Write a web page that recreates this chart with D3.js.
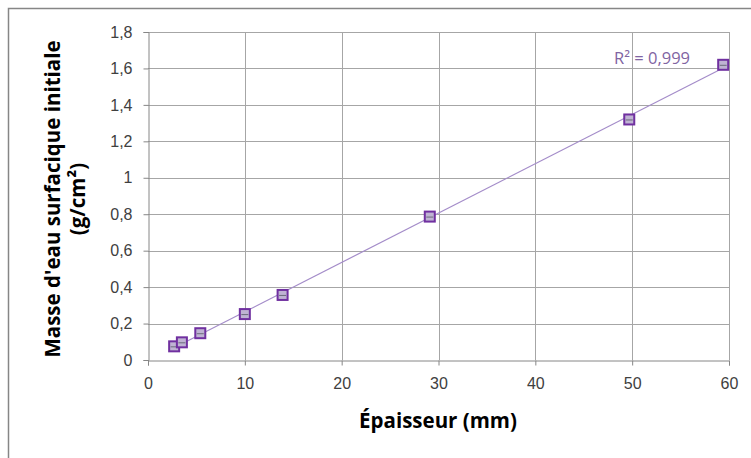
<!DOCTYPE html>
<html><head><meta charset="utf-8">
<script src="https://cdn.jsdelivr.net/npm/d3@7"></script>
<style>body{margin:0;background:#fff}svg{display:block;font-family:"Open Sans","Noto Sans",sans-serif}</style>
</head><body>
<svg id="c" width="751" height="458"></svg>
<script>
const thickness = [2.7, 3.5, 5.4, 10.0, 13.9, 29.1, 49.7, 59.4];
const waterMass = [0.075, 0.097, 0.147, 0.252, 0.357, 0.787, 1.32, 1.62];
const xTicks = [0, 10, 20, 30, 40, 50, 60];
const yTicks = [0, 0.2, 0.4, 0.6, 0.8, 1, 1.2, 1.4, 1.6, 1.8];
const r2Label = "R² = 0,999";
const xTitle = "Épaisseur (mm)";
const yTitle = ["Masse d'eau surfacique initiale", "(g/cm²)"];

const svg = d3.select("#c");
const L = 148, R = 729, T = 32, B = 360;
const x = d3.scaleLinear().domain([0, 60]).range([L, R]);
const y = d3.scaleLinear().domain([0, 1.8]).range([B, T]);
const fmt = v => String(v).replace(".", ",");

// outer border
svg.append("path").attr("d", "M8.5,458 V8.5 H751").attr("fill", "none").attr("stroke", "#868686").attr("stroke-width", 1.5);

// gridlines
svg.append("g").selectAll("line").data(yTicks.slice(1)).join("line")
  .attr("x1", L).attr("x2", R).attr("y1", d => Math.round(y(d)) + 0.5).attr("y2", d => Math.round(y(d)) + 0.5)
  .attr("stroke", "#a6a6a6");
svg.append("g").selectAll("line").data(xTicks.slice(1)).join("line")
  .attr("y1", T).attr("y2", B).attr("x1", d => Math.round(x(d)) + 0.5).attr("x2", d => Math.round(x(d)) + 0.5)
  .attr("stroke", "#a6a6a6");

// axes
const xa = svg.append("g").attr("transform", `translate(0,${B + 0.5})`)
  .call(d3.axisBottom(x).tickValues(xTicks).tickFormat(fmt).tickSize(5).tickPadding(12));
const ya = svg.append("g").attr("transform", `translate(${L + 0.5},0)`)
  .call(d3.axisLeft(y).tickValues(yTicks).tickFormat(fmt).tickSize(5).tickPadding(11));
[xa, ya].forEach(a => {
  a.select(".domain").attr("stroke", "#868686");
  a.selectAll(".tick line").attr("stroke", "#868686");
  a.selectAll(".tick text").attr("fill", "#404040").attr("font-size", 16);
});

// trendline (least squares over data)
const n = thickness.length;
const mx = d3.mean(thickness), my = d3.mean(waterMass);
let sxy = 0, sxx = 0;
for (let i = 0; i < n; i++) { sxy += (thickness[i] - mx) * (waterMass[i] - my); sxx += (thickness[i] - mx) ** 2; }
const slope = sxy / sxx, icpt = my - slope * mx;
const x0 = d3.min(thickness), x1 = d3.max(thickness);
svg.append("line").attr("x1", x(x0)).attr("y1", y(icpt + slope * x0)).attr("x2", x(x1)).attr("y2", y(icpt + slope * x1))
  .attr("stroke", "#a48cc9").attr("stroke-width", 1.2);

// markers
const m = svg.append("g").selectAll("g").data(d3.range(n)).join("g")
  .attr("transform", i => `translate(${x(thickness[i])},${y(waterMass[i])})`);
m.append("rect").attr("x", -5).attr("y", -5).attr("width", 10).attr("height", 10)
  .attr("fill", "#bfb3d3").attr("stroke", "#7030a0").attr("stroke-width", 2);
m.append("line").attr("x1", -3.5).attr("x2", 3.5).attr("y1", 0.5).attr("y2", 0.5).attr("stroke", "#6b6b7a").attr("stroke-width", 1);

// R² label
svg.append("text").attr("x", 690).attr("y", 64).attr("text-anchor", "end")
  .attr("fill", "#8064a2").attr("font-size", 16.5).text(r2Label);

// titles
svg.append("text").attr("x", 438).attr("y", 428).attr("text-anchor", "middle")
  .attr("font-weight", "bold").attr("font-size", 20.5).attr("fill", "#000").text(xTitle);
const yt = svg.append("text").attr("transform", `translate(60,${(T + B) / 2 + 3}) rotate(-90)`)
  .attr("text-anchor", "middle").attr("font-weight", "bold").attr("font-size", 20.5).attr("fill", "#000");
yt.append("tspan").attr("x", 0).attr("dy", 0).text(yTitle[0]);
yt.append("tspan").attr("x", 0).attr("dy", 25).text(yTitle[1]);
</script>
</body></html>
